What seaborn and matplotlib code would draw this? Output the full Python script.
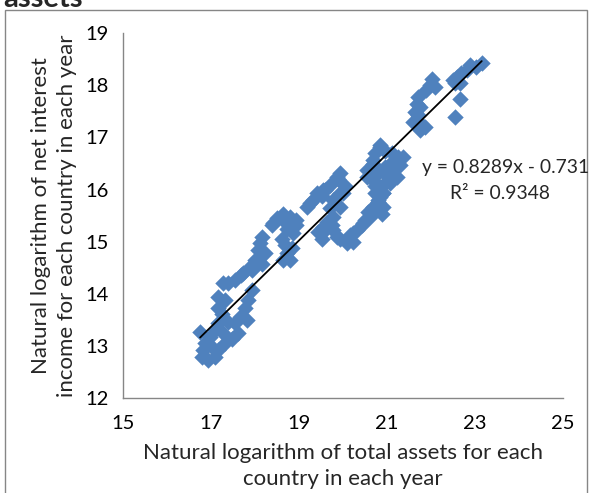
import numpy as np
import pandas as pd
import matplotlib
matplotlib.use("Agg")
import matplotlib.pyplot as plt
import seaborn as sns
from matplotlib.patches import Rectangle

# ---- data ----
ln_assets = [
    16.76, 16.87, 16.83, 16.80, 16.95, 17.02, 17.10, 17.17, 16.98, 17.10,
    17.32, 17.29, 17.48, 17.63, 17.55, 17.40, 17.17, 17.25, 17.17, 17.67,
    17.82, 17.78, 17.85, 17.93, 17.17, 17.32, 17.29, 17.40, 17.55, 17.70,
    17.93, 18.16, 18.23, 17.74, 17.89, 18.12,
    17.97, 18.00, 18.08, 18.12, 18.16, 18.39, 18.50, 18.65, 18.65, 18.80,
    18.88, 18.95, 18.73, 18.61, 18.69, 18.84, 18.73, 18.65, 18.80, 18.95,
    18.88, 18.42,
    19.18, 19.26, 19.33, 19.41, 19.52, 19.56, 19.60, 19.71, 19.79, 19.94,
    20.05, 19.94, 19.90, 19.86, 20.01, 19.94, 19.79, 19.71, 19.64, 19.75,
    19.56, 19.45, 19.56, 19.52, 19.79, 19.86, 19.94, 20.09, 20.09, 20.24,
    20.17, 20.24, 20.32, 20.43, 20.47, 20.51, 20.62, 20.58, 20.70, 20.81,
    20.85, 20.92, 20.92, 20.70, 20.89, 20.81, 20.73, 20.92, 20.89, 20.73,
    20.70, 20.77, 21.04, 21.08, 21.23, 20.55, 20.62, 20.55, 20.70, 20.96,
    21.15, 21.30, 20.70, 20.73, 20.96, 21.11, 21.26, 21.38, 20.85, 20.85,
    21.08,
    21.60, 21.76, 21.87, 21.76, 21.64, 21.72, 21.76, 21.68, 21.72, 21.90,
    21.98, 22.10, 22.02, 22.55, 22.67, 22.51, 22.55, 22.67, 22.60, 22.70,
    22.82, 22.89, 23.03, 23.16,
]
ln_net_interest = [
    13.27, 13.05, 12.92, 12.79, 12.73, 12.98, 12.79, 12.92, 13.18, 13.30,
    13.05, 13.24, 13.14, 13.24, 13.43, 13.46, 13.43, 13.62, 13.72, 13.56,
    13.50, 13.72, 13.88, 14.07, 13.94, 13.88, 14.20, 14.20, 14.26, 14.36,
    14.45, 14.58, 14.78, 14.39, 14.52, 14.71,
    14.49, 14.65, 14.84, 14.97, 15.09, 15.32, 15.45, 15.41, 15.54, 15.48,
    15.38, 15.32, 15.25, 15.06, 14.93, 14.87, 14.78, 14.65, 14.65, 15.41,
    15.16, 15.35,
    15.67, 15.74, 15.80, 15.93, 15.87, 15.99, 16.00, 16.09, 15.80, 15.93,
    16.06, 16.31, 16.21, 16.24, 15.93, 15.67, 15.48, 15.64, 15.38, 15.32,
    15.29, 15.19, 15.19, 15.06, 15.22, 15.09, 15.06, 14.97, 15.03, 15.00,
    15.13, 15.16, 15.22, 15.32, 15.35, 15.42, 15.48, 15.57, 15.67, 15.80,
    15.86, 15.93, 15.67, 15.57, 15.54, 15.77, 15.93, 15.93, 16.06, 16.06,
    16.18, 16.30, 16.25, 16.12, 16.25, 16.25, 16.38, 16.37, 16.50, 16.44,
    16.44, 16.47, 16.56, 16.70, 16.75, 16.71, 16.63, 16.63, 16.86, 16.82,
    16.50,
    17.30, 17.27, 17.20, 17.14, 17.49, 17.43, 17.58, 17.65, 17.78, 17.91,
    18.00, 17.97, 18.13, 17.39, 17.74, 18.10, 18.04, 18.05, 18.17, 18.23,
    18.30, 18.39, 18.36, 18.42,
]
trend_slope = 0.8289
trend_intercept = -0.731
r_squared = 0.9348
x_ticks = [15, 17, 19, 21, 23, 25]
y_ticks = [12, 13, 14, 15, 16, 17, 18, 19]

df = pd.DataFrame({"ln_assets": ln_assets, "ln_nii": ln_net_interest})

sns.set_style("white")
plt.rcParams["font.family"] = ["Lato", "DejaVu Sans"]

fig = plt.figure(figsize=(5.91, 4.93), dpi=100)
ax = fig.add_axes([0.2076, 0.1927, 0.7445, 0.7398])

blue = "#4F81BD"
sns.scatterplot(data=df, x="ln_assets", y="ln_nii", marker="D", s=70,
                color=blue, edgecolor=blue, linewidth=0, ax=ax, zorder=2)

# linear trendline across the data range
xr = np.array([df["ln_assets"].min(), df["ln_assets"].max()])
ax.plot(xr, trend_slope * xr + trend_intercept, color="black", lw=1.3, zorder=3)

ax.set_xlim(15, 25)
ax.set_ylim(12, 19)
ax.set_xticks(x_ticks)
ax.set_yticks(y_ticks)
for s in ["top", "right"]:
    ax.spines[s].set_visible(False)
for s in ["left", "bottom"]:
    ax.spines[s].set_color("#868686")
    ax.spines[s].set_linewidth(1.0)
ax.tick_params(axis="x", pad=7)
ax.tick_params(axis="y", pad=5)
ax.tick_params(axis="both", direction="out", length=5, width=1.0,
               color="#868686", labelsize=14.5, labelcolor="black")

ax.set_xlabel("Natural logarithm of total assets for each\ncountry in each year",
              fontsize=16, linespacing=1.4, labelpad=8)
ax.set_ylabel("Natural logarithm of net interest\nincome for each country in each year",
              fontsize=16, linespacing=1.35, labelpad=6)

fig.text(422 / 591, 1 - 167 / 493, f"y = {trend_slope}x - {abs(trend_intercept)}",
         fontsize=13.9, ha="left", va="center")
fig.text(0.846, 1 - 193 / 493, f"R\u00b2 = {r_squared}",
         fontsize=13.9, ha="center", va="center")

# chart frame and cropped title
fig.patches.append(Rectangle((5 / 591, -0.01), 582 / 591, 1 - 10 / 493 + 0.01,
                             transform=fig.transFigure, fill=False,
                             edgecolor="#868686", lw=1.0))
fig.text(3 / 591, 1 - 7 / 493, "assets", fontsize=21, fontweight="bold",
         ha="left", va="baseline")

fig.savefig("out.png", dpi=100)
